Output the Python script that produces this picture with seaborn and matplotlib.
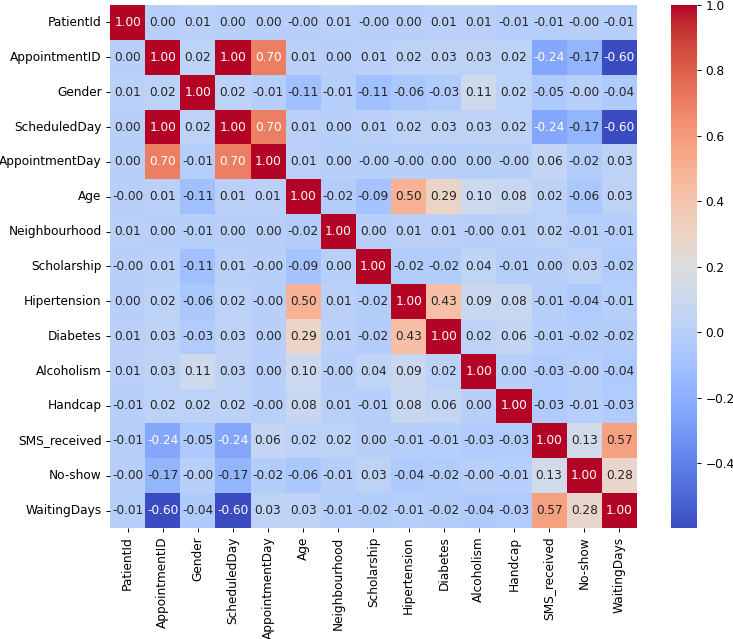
import numpy as np
import pandas as pd
import matplotlib
matplotlib.use("Agg")
import matplotlib.pyplot as plt
import seaborn as sns

# correlation matrix (-0.0 keeps the "-0.00" labels)
cols = ["PatientId", "AppointmentID", "Gender", "ScheduledDay", "AppointmentDay",
        "Age", "Neighbourhood", "Scholarship", "Hipertension", "Diabetes",
        "Alcoholism", "Handcap", "SMS_received", "No-show", "WaitingDays"]

patient_id     = [1.00, 0.00, 0.01, 0.00, 0.00, -0.0, 0.01, -0.0, 0.00, 0.01, 0.01, -0.01, -0.01, -0.0, -0.01]
appointment_id = [0.00, 1.00, 0.02, 1.00, 0.70, 0.01, 0.00, 0.01, 0.02, 0.03, 0.03, 0.02, -0.24, -0.17, -0.598]
gender         = [0.01, 0.02, 1.00, 0.02, -0.01, -0.11, -0.01, -0.11, -0.06, -0.03, 0.11, 0.02, -0.05, -0.0, -0.04]
scheduled_day  = [0.00, 1.00, 0.02, 1.00, 0.70, 0.01, 0.00, 0.01, 0.02, 0.03, 0.03, 0.02, -0.24, -0.17, -0.598]
appointment_day = [0.00, 0.70, -0.01, 0.70, 1.00, 0.01, 0.00, -0.0, -0.0, 0.00, 0.00, -0.0, 0.06, -0.02, 0.03]
age            = [-0.0, 0.01, -0.11, 0.01, 0.01, 1.00, -0.02, -0.09, 0.50, 0.29, 0.10, 0.08, 0.02, -0.06, 0.03]
neighbourhood  = [0.01, 0.00, -0.01, 0.00, 0.00, -0.02, 1.00, 0.00, 0.01, 0.01, -0.0, 0.01, 0.02, -0.01, -0.01]
scholarship    = [-0.0, 0.01, -0.11, 0.01, -0.0, -0.09, 0.00, 1.00, -0.02, -0.02, 0.04, -0.01, 0.00, 0.03, -0.02]
hipertension   = [0.00, 0.02, -0.06, 0.02, -0.0, 0.50, 0.01, -0.02, 1.00, 0.43, 0.09, 0.08, -0.01, -0.04, -0.01]
diabetes       = [0.01, 0.03, -0.03, 0.03, 0.00, 0.29, 0.01, -0.02, 0.43, 1.00, 0.02, 0.06, -0.01, -0.02, -0.02]
alcoholism     = [0.01, 0.03, 0.11, 0.03, 0.00, 0.10, -0.0, 0.04, 0.09, 0.02, 1.00, 0.00, -0.03, -0.0, -0.04]
handcap        = [-0.01, 0.02, 0.02, 0.02, -0.0, 0.08, 0.01, -0.01, 0.08, 0.06, 0.00, 1.00, -0.03, -0.01, -0.03]
sms_received   = [-0.01, -0.24, -0.05, -0.24, 0.06, 0.02, 0.02, 0.00, -0.01, -0.01, -0.03, -0.03, 1.00, 0.13, 0.57]
no_show        = [-0.0, -0.17, -0.0, -0.17, -0.02, -0.06, -0.01, 0.03, -0.04, -0.02, -0.0, -0.01, 0.13, 1.00, 0.28]
waiting_days   = [-0.01, -0.598, -0.04, -0.598, 0.03, 0.03, -0.01, -0.02, -0.01, -0.02, -0.04, -0.03, 0.57, 0.28, 1.00]

rows = [patient_id, appointment_id, gender, scheduled_day, appointment_day, age,
        neighbourhood, scholarship, hipertension, diabetes, alcoholism, handcap,
        sms_received, no_show, waiting_days]

corr = pd.DataFrame(np.array(rows), index=cols, columns=cols)

# drawn a bit large and saved at lower dpi, like a scaled-down screenshot
DPI = 87
fig = plt.figure(figsize=(734/DPI, 639/DPI), dpi=DPI)
ax = fig.add_axes([110/734, 111/639, 527/734, 523/639])
cax = fig.add_axes([671/734, 111/639, 26/734, 523/639])

sns.heatmap(
    corr,
    annot=True,
    fmt=".2f",
    cmap="coolwarm",
    ax=ax,
    cbar_ax=cax
)

fig.savefig("out.png", dpi=DPI)
